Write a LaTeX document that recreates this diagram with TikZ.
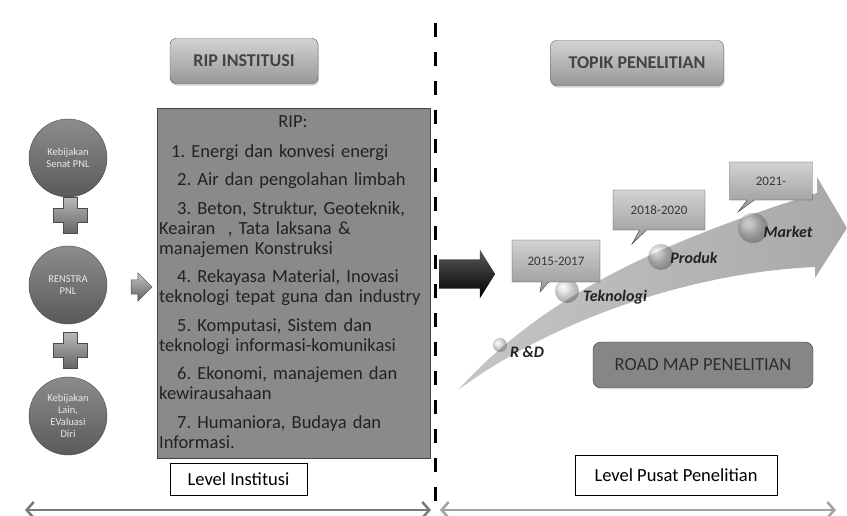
\documentclass[tikz,border=0pt]{standalone}
\usepackage{fontspec}
\setmainfont{Carlito}
\usepackage{tikz}
\usetikzlibrary{
    shapes, shapes.arrows, shapes.callouts,
    arrows.meta, positioning, calc, shadows
}
\definecolor{inkDark}{HTML}{222222}
\definecolor{boxTop}{HTML}{D2D2D2}
\definecolor{boxBottom}{HTML}{979797}
\definecolor{ripFill}{HTML}{8A8A8A}
\definecolor{circleTop}{HTML}{8C8C8C}
\definecolor{circleBottom}{HTML}{5A5A5A}
\definecolor{roadFill}{HTML}{868686}
\definecolor{levelGray}{HTML}{7A7A7A}
\newcommand{\DrawPlus}[2]{
    \draw[shift={(#1,#2)}, top color=gray!55, bottom color=gray!80!black, draw=gray!60!black]
        (-7,-18) -- (7,-18) -- (7,-7) -- (17,-7) -- (17,7) -- (7,7) -- (7,18)
        -- (-7,18) -- (-7,7) -- (-17,7) -- (-17,-7) -- (-7,-7) -- cycle;
}
\tikzset{
    % Common
    titleBox/.style={
        rectangle, rounded corners=6pt, draw=gray!70!black,
        top color=boxTop, bottom color=boxBottom, minimum height=45pt,
        font=\fontsize{18}{20}\selectfont\bfseries, text=inkDark!85,
        drop shadow={opacity=0.35, shadow xshift=1pt, shadow yshift=-2pt}
    },
    divLine/.style={line width=3pt, dash pattern=on 14pt off 15pt},
    levelBox/.style={rectangle, draw=black, fill=white, font=\fontsize{18.5}{20}\selectfont},
    levelArrow/.style={{Straight Barb[length=7pt,width=16pt]}-{Straight Barb[length=7pt,width=16pt]}, line width=2.5pt, draw=levelGray},
    % Institusi side
    sourceCircle/.style={
        circle, minimum size=78pt, inner sep=0pt, align=center,
        top color=circleTop, bottom color=circleBottom, draw=circleBottom!80!black,
        font=\fontsize{10.5}{12}\selectfont, text=white!82!gray
    },
    ripBox/.style={rectangle, draw=gray!55!black, fill=ripFill, inner sep=0pt},
    ripList/.style={text width=270pt, align=left, inner sep=2pt, text=inkDark, font=\fontsize{18.5}{20}\selectfont},
    smallArrow/.style={
        single arrow, inner xsep=0pt, inner ysep=7pt, minimum height=21pt,
        single arrow head extend=7pt, top color=gray!45, bottom color=gray!75!black, draw=gray!60!black
    },
    bigArrow/.style={
        single arrow, inner xsep=0pt, inner ysep=14.5pt, minimum height=56pt,
        single arrow head extend=9.5pt, single arrow tip angle=116, top color=gray!70!black, bottom color=black
    },
    % Road map side
    yearBox/.style={
        rectangle callout, draw=gray!50!black, top color=boxTop, bottom color=boxBottom,
        font=\fontsize{13}{15}\selectfont, text=inkDark!90
    },
    stageDot/.style={circle, inner sep=0pt, shading=ball, ball color=gray!55, opacity=0.45},
    stageLabel/.style={font=\fontsize{16}{18}\selectfont\bfseries\itshape, text=inkDark},
    roadBox/.style={
        rectangle, rounded corners=8pt, draw=gray!40!black, fill=roadFill,
        minimum width=220pt, minimum height=46pt, font=\fontsize{18.5}{20}\selectfont, text=gray!35!black
    }
}

\begin{document}
\frenchspacing
\begin{tikzpicture}[x=1pt, y=-1pt]
    \useasboundingbox (0,0) rectangle (847,515);

    % Headers
    \node[titleBox, minimum width=148pt] (ripTitle) at (244,61) {RIP INSTITUSI};
    \node[titleBox, minimum width=173pt] (topikTitle) at (637,63) {TOPIK PENELITIAN};

    % Divider
    \coordinate (divTop) at (435,23);
    \coordinate (divBottom) at (435,515);
    \draw[divLine] (divTop) -- (divBottom);

    % Sources
    \node[sourceCircle] (senat) at (68,158) {Kebijakan\\Senat PNL};
    \DrawPlus{70}{215}
    \node[sourceCircle] (renstra) at (68,285) {RENSTRA\\PNL};
    \DrawPlus{70}{350}
    \node[sourceCircle] (lain) at (68,416) {Kebijakan\\Lain,\\EValuasi\\Diri};
    \node[smallArrow] (toRip) at (138,287) {};

    % RIP list
    \node[ripBox, minimum width=273pt, minimum height=350pt, anchor=north west] (rip) at (157,108) {};
    \node[font=\fontsize{18.5}{20}\selectfont, text=inkDark] (ripHead) at (293,122) {RIP:};
    \node[ripList, anchor=north west] (ripItems) at (157,142) {%
        \hspace*{12pt}1. Energi dan konvesi energi\\[8.5pt]
        \hspace*{18pt}2. Air dan pengolahan limbah\\[8.5pt]
        \hspace*{18pt}3. Beton, Struktur, Geoteknik,\\
        Keairan\ \ , Tata laksana \&\\
        manajemen Konstruksi\\[8.5pt]
        \hspace*{18pt}4. Rekayasa Material, Inovasi\\
        teknologi tepat guna dan industry\\[8.5pt]
        \hspace*{18pt}5. Komputasi, Sistem dan\\
        teknologi informasi-komunikasi\\[8.5pt]
        \hspace*{18pt}6. Ekonomi, manajemen dan\\
        kewirausahaan\\[8.5pt]
        \hspace*{18pt}7. Humaniora, Budaya dan\\
        Informasi.};
    \node[bigArrow] (toRoad) at (462.5,274) {};

    % Road map arrow
    \shade[left color=gray!45, right color=gray!68] (458,390)
        .. controls (540,300) and (650,245) .. (817,193)
        -- (817,177) -- (847,228) -- (815,278) -- (815,267)
        .. controls (700,272) and (560,315) .. (458,390) -- cycle;

    % Stages
    \node[stageDot, minimum size=14pt] (dotRD) at (500,345) {};
    \node[stageLabel] (rd) at (527,352) {R \&D};
    \node[stageDot, minimum size=24pt] (dotTek) at (567,291) {};
    \node[stageLabel] (tek) at (615,297) {Teknologi};
    \node[stageDot, minimum size=26pt] (dotProd) at (661,257) {};
    \node[stageLabel] (prod) at (694,258) {Produk};
    \node[stageDot, minimum size=30pt] (dotMarket) at (753,228) {};
    \node[stageLabel] (market) at (788,232) {Market};

    % Years
    \node[yearBox, minimum width=88pt, minimum height=42pt, callout absolute pointer={(540,292)}] (yearA) at (556,261) {2015-2017};
    \node[yearBox, minimum width=92pt, minimum height=40pt, callout absolute pointer={(632,244)}] (yearB) at (659,210) {2018-2020};
    \node[yearBox, minimum width=83pt, minimum height=38pt, callout absolute pointer={(738,212)}] (yearC) at (771,181) {2021-};

    \node[roadBox] (roadmap) at (703,365) {ROAD MAP PENELITIAN};

    % Levels
    \node[levelBox, minimum width=137pt, minimum height=32pt] (levelInst) at (238.5,479) {Level Institusi};
    \node[levelBox, minimum width=202pt, minimum height=40pt] (levelPusat) at (676,475) {Level Pusat Penelitian};
    \coordinate (instLeft) at (25,510);
    \coordinate (instRight) at (431,510);
    \coordinate (pusatLeft) at (440,510);
    \coordinate (pusatRight) at (836,510);
    \draw[levelArrow] (instLeft) -- (instRight);
    \draw[levelArrow, draw=levelGray!70] (pusatLeft) -- (pusatRight);
\end{tikzpicture}
\end{document}
